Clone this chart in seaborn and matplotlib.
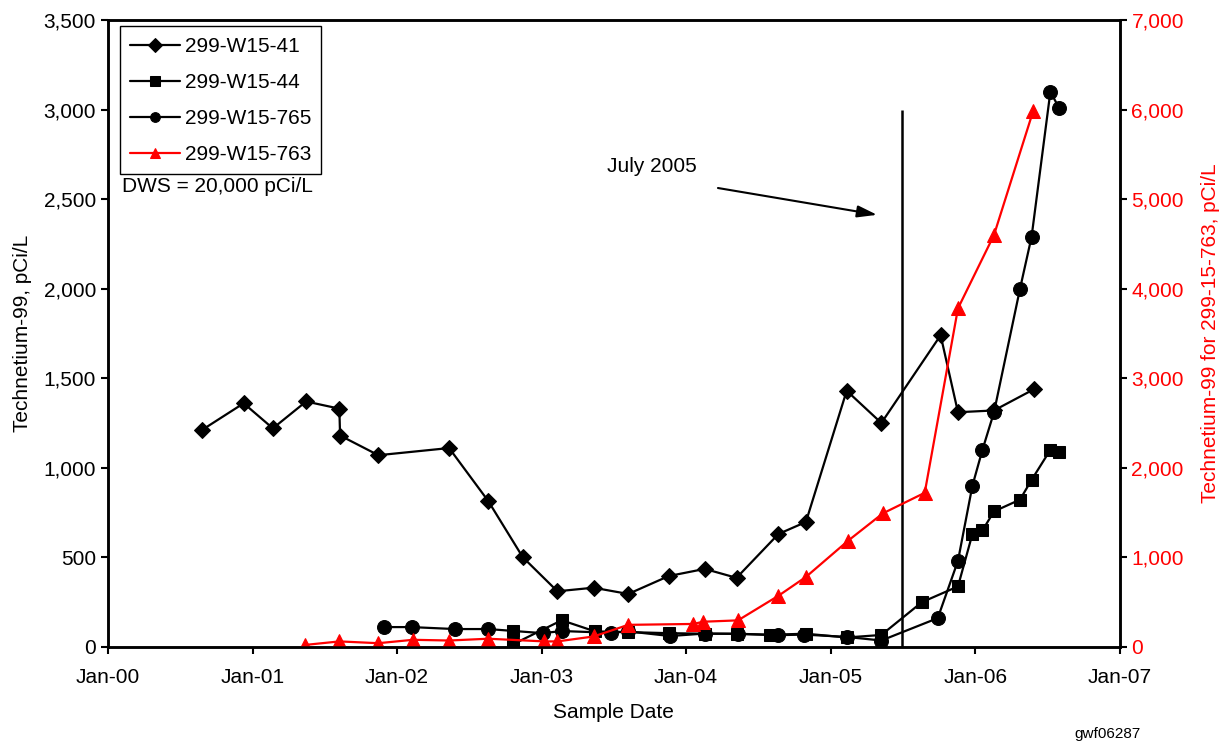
import pandas as pd
import seaborn as sns
import matplotlib.pyplot as plt
import matplotlib.dates as mdates
import matplotlib.ticker as mticker
import numpy as np

# sample dates as decimal years, values in pCi/L
w41_year = [2000.65, 2000.94, 2001.14, 2001.37, 2001.60, 2001.605, 2001.87, 2002.36, 2002.63, 2002.87,
            2003.11, 2003.36, 2003.60, 2003.88, 2004.13, 2004.35, 2004.64, 2004.83, 2005.11, 2005.35,
            2005.76, 2005.88, 2006.13, 2006.41]
w41_val = [1210, 1360, 1220, 1370, 1330, 1180, 1070, 1110, 815, 500,
           310, 330, 295, 395, 435, 385, 630, 697, 1430, 1250,
           1740, 1310, 1320, 1440]

w44_year = [2002.80, 2002.805, 2003.14, 2003.37, 2003.60, 2003.88, 2004.13, 2004.35, 2004.58, 2004.83,
            2005.11, 2005.35, 2005.63, 2005.88, 2005.98, 2006.05, 2006.13, 2006.31, 2006.39, 2006.52,
            2006.58]
w44_val = [90, 15, 148, 86, 82, 76, 73, 73, 67, 73,
           52, 66, 249, 337, 630, 650, 756, 822, 932, 1100,
           1090]

w765_year = [2001.91, 2002.10, 2002.40, 2002.63, 2003.01, 2003.14, 2003.48, 2003.60, 2003.89, 2004.13,
             2004.36, 2004.64, 2004.82, 2005.11, 2005.35, 2005.74, 2005.88, 2005.98, 2006.05, 2006.13,
             2006.31, 2006.39, 2006.52, 2006.58]
w765_val = [110, 110, 99, 99, 76, 88, 78, 86, 60, 74,
            72, 65, 68, 55, 35, 160, 480, 900, 1100, 1310,
            2000, 2290, 3100, 3010]

w763_year = [2001.36, 2001.60, 2001.87, 2002.11, 2002.36, 2002.63, 2003.02, 2003.11, 2003.36, 2003.60,
             2004.05, 2004.12, 2004.36, 2004.64, 2004.83, 2005.12, 2005.36, 2005.65, 2005.88, 2006.13,
             2006.40]
w763_val = [20, 60, 40, 78, 70, 90, 60, 60, 115, 245,
            255, 280, 295, 570, 780, 1185, 1490, 1720, 3780, 4600,
            5980]


def to_date(years):
    out = []
    for y in years:
        base = pd.Timestamp(int(y), 1, 1)
        out.append(base + pd.Timedelta(days=(y - int(y)) * 365.25))
    return out


sns.set_theme(style="ticks", rc={"axes.edgecolor": "black", "axes.linewidth": 1.8,
                                 "xtick.major.width": 1.5, "ytick.major.width": 1.5,
                                 "xtick.major.size": 5, "ytick.major.size": 5,
                                 "text.color": "black", "axes.labelcolor": "black",
                                 "xtick.color": "black", "ytick.color": "black"})
plt.rcParams['font.family'] = ['Liberation Sans', 'DejaVu Sans']

fs = 15
fig = plt.figure(figsize=(12.25, 7.46), dpi=100)
ax = fig.add_axes([0.088, 0.133, 0.826, 0.840])
ax2 = ax.twinx()

lw = 1.6
sns.lineplot(x=to_date(w41_year), y=w41_val, ax=ax, sort=False, estimator=None, color="black",
             marker="D", markersize=8.5, markeredgecolor="black", linewidth=lw, legend=False)
sns.lineplot(x=to_date(w44_year), y=w44_val, ax=ax, sort=False, estimator=None, color="black",
             marker="s", markersize=9, markeredgecolor="black", linewidth=lw, legend=False)
sns.lineplot(x=to_date(w765_year), y=w765_val, ax=ax, sort=False, estimator=None, color="black",
             marker="o", markersize=10, markeredgecolor="black", linewidth=lw, legend=False)
sns.lineplot(x=to_date(w763_year), y=w763_val, ax=ax2, sort=False, estimator=None, color="red",
             marker="^", markersize=10, markeredgecolor="red", linewidth=lw, legend=False)

# July 2005 marker
jul05 = pd.Timestamp(2005, 7, 1)
ax.vlines(jul05, 0, 3000, color="black", linewidth=1.8)
ax.annotate("", xy=(pd.Timestamp(2005, 5, 5), 2410), xytext=(pd.Timestamp(2004, 3, 15), 2565),
            arrowprops=dict(arrowstyle="-|>,head_length=1.0,head_width=0.3", color="black", lw=1.5))
ax.text(pd.Timestamp(2003, 10, 8), 2680, "July 2005", fontsize=fs, ha="center", va="center")

ax.set_xlim(pd.Timestamp(2000, 1, 1), pd.Timestamp(2007, 1, 1))
ax.xaxis.set_major_locator(mdates.YearLocator())
ax.xaxis.set_major_formatter(mdates.DateFormatter("%b-%y"))
ax.set_ylim(0, 3500)
ax.set_yticks(np.arange(0, 3501, 500))
ax.yaxis.set_major_formatter(mticker.StrMethodFormatter("{x:,.0f}"))
ax2.set_ylim(0, 7000)
ax2.set_yticks(np.arange(0, 7001, 1000))
ax2.yaxis.set_major_formatter(mticker.StrMethodFormatter("{x:,.0f}"))

ax.tick_params(axis="both", labelsize=fs, colors="black")
ax.tick_params(axis="x", pad=10)
ax2.tick_params(axis="y", labelsize=fs, labelcolor="red", color="black")
ax2.spines["right"].set_color("black")

ax.set_xlabel("Sample Date", fontsize=fs, labelpad=12)
ax.set_ylabel("Technetium-99, pCi/L", fontsize=fs, labelpad=8)
ax2.set_ylabel("Technetium-99 for 299-15-763, pCi/L", fontsize=fs, color="red", labelpad=12)

handles = ax.get_lines()[:3] + ax2.get_lines()[:1]
labels = ["299-W15-41", "299-W15-44", "299-W15-765", "299-W15-763"]
leg = ax.legend(handles, labels, loc="upper left", bbox_to_anchor=(0.012, 0.99), borderaxespad=0,
                fontsize=fs, frameon=True, fancybox=False, edgecolor="black", framealpha=1,
                handlelength=2.4, handletextpad=0.2, labelspacing=0.82, borderpad=0.5)
leg.get_frame().set_linewidth(1.0)
for h in leg.legend_handles:
    h.set_markersize(7)

ax.text(0.014, 0.735, "DWS = 20,000 pCi/L", transform=ax.transAxes, fontsize=fs, ha="left", va="center")
fig.text(0.904, 0.016, "gwf06287", fontsize=11, ha="center", va="center")

fig.savefig("out.png", dpi=100)
